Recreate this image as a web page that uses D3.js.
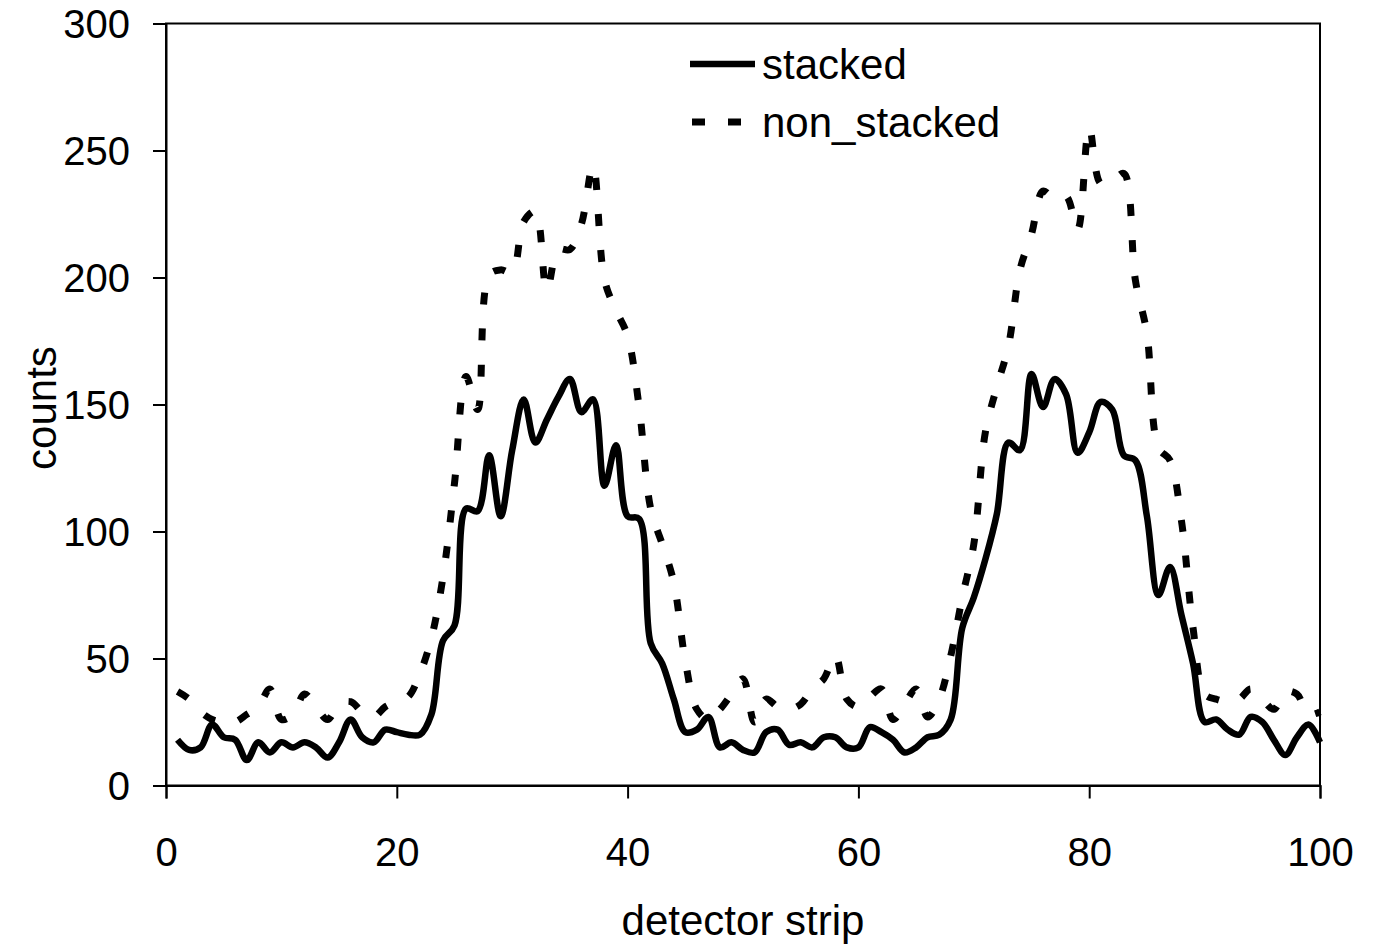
<!DOCTYPE html>
<html>
<head>
<meta charset="utf-8">
<script src="https://cdn.jsdelivr.net/npm/d3@7"></script>
<style>
  html, body { margin: 0; padding: 0; background: #fff; }
  svg text { font-family: "Liberation Sans", Arial, sans-serif; fill: #000; }
</style>
</head>
<body>
<svg id="chart" width="1375" height="948"></svg>
<script>
// Counts per detector strip (strips 1..100)
const strips = d3.range(1, 101);

const stacked = [
  18, 14, 15, 24, 19, 18, 10, 17, 13, 17,
  15, 17, 15, 11, 17, 26, 19, 17, 22, 21,
  20, 20, 28, 57, 63, 109, 108, 130, 106, 132,
  152, 135, 144, 153, 160, 147, 152, 118, 134, 106,
  105, 56, 48, 34, 21, 22, 27, 15, 17, 14,
  13, 21, 22, 16, 17, 15, 19, 19, 15, 15,
  23, 21, 18, 13, 15, 19, 20, 26, 62, 74,
  89, 107, 135, 132, 162, 149, 160, 154, 131, 139,
  151, 148, 130, 128, 106, 75, 86, 67, 48, 25,
  26, 22, 20, 27, 25, 18, 12, 19, 24, 17
];

const nonStacked = [
  37, 34, 29, 26, 25, 25, 28, 31, 38, 26,
  28, 36, 31, 26, 32, 33, 29, 27, 31, 33,
  35, 44, 58, 82, 119, 161, 148, 201, 203, 202,
  222, 226, 195, 211, 211, 221, 244, 199, 187, 177,
  149, 109, 95, 80, 49, 30, 26, 30, 36, 42,
  25, 34, 31, 30, 32, 38, 42, 51, 34, 31,
  35, 38, 26, 32, 38, 27, 34, 51, 74, 95,
  139, 157, 173, 203, 217, 234, 231, 232, 219, 259,
  237, 238, 241, 199, 178, 133, 128, 104, 62, 36,
  34, 33, 34, 38, 34, 30, 37, 36, 28, 29
];

const xTicks = [0, 20, 40, 60, 80, 100];
const yTicks = [0, 50, 100, 150, 200, 250, 300];
const seriesNames = ["stacked", "non_stacked"];

const svg = d3.select("#chart");
const plot = { left: 166, right: 1320, top: 23.5, bottom: 785.5 };

const x = d3.scaleLinear().domain([0, 100]).range([plot.left, plot.right]);
const y = d3.scaleLinear().domain([0, 300]).range([plot.bottom, plot.top]);

// plot frame
svg.append("rect")
  .attr("x", plot.left).attr("y", plot.top)
  .attr("width", plot.right - plot.left).attr("height", plot.bottom - plot.top)
  .attr("fill", "none").attr("stroke", "#000").attr("stroke-width", 2);

// axes
const xAxis = svg.append("g")
  .attr("transform", `translate(0,${plot.bottom})`)
  .call(d3.axisBottom(x).tickValues(xTicks).tickSize(13).tickPadding(39).tickFormat(d3.format("d")));
const yAxis = svg.append("g")
  .attr("transform", `translate(${plot.left},0)`)
  .call(d3.axisLeft(y).tickValues(yTicks).tickSize(13).tickPadding(23).tickFormat(d3.format("d")));

[xAxis, yAxis].forEach(g => {
  g.select(".domain").attr("stroke", "#000").attr("stroke-width", 2);
  g.selectAll(".tick line").attr("stroke", "#000").attr("stroke-width", 2);
  g.selectAll(".tick text").attr("font-size", 40).attr("fill", "#000")
    .style("font-family", "'Liberation Sans', Arial, sans-serif");
});
yAxis.selectAll(".tick text").attr("dy", "0.36em");

// axis titles
svg.append("text")
  .attr("x", (plot.left + plot.right) / 2).attr("y", 935)
  .attr("text-anchor", "middle").attr("font-size", 42)
  .text("detector strip");
svg.append("text")
  .attr("transform", `translate(56,408) rotate(-90)`)
  .attr("text-anchor", "middle").attr("font-size", 42)
  .text("counts");

// data lines
const line = d3.line()
  .x((d, i) => x(strips[i]))
  .y(d => y(d))
  .curve(d3.curveCatmullRom.alpha(0.5));

svg.append("path")
  .datum(nonStacked)
  .attr("d", line)
  .attr("fill", "none").attr("stroke", "#000")
  .attr("stroke-width", 7)
  .attr("stroke-dasharray", "12,24");

svg.append("path")
  .datum(stacked)
  .attr("d", line)
  .attr("fill", "none").attr("stroke", "#000")
  .attr("stroke-width", 6.5)
  .attr("stroke-linejoin", "round");

// legend
const legend = svg.append("g");
const legendY = [64, 122];
legend.append("line")
  .attr("x1", 690).attr("x2", 755).attr("y1", legendY[0]).attr("y2", legendY[0])
  .attr("stroke", "#000").attr("stroke-width", 6.5);
legend.append("line")
  .attr("x1", 692).attr("x2", 755).attr("y1", legendY[1]).attr("y2", legendY[1])
  .attr("stroke", "#000").attr("stroke-width", 7).attr("stroke-dasharray", "13,23");
seriesNames.forEach((name, i) => {
  legend.append("text")
    .attr("x", 762).attr("y", legendY[i] + 15)
    .attr("font-size", 42)
    .text(name);
});
</script>
</body>
</html>
